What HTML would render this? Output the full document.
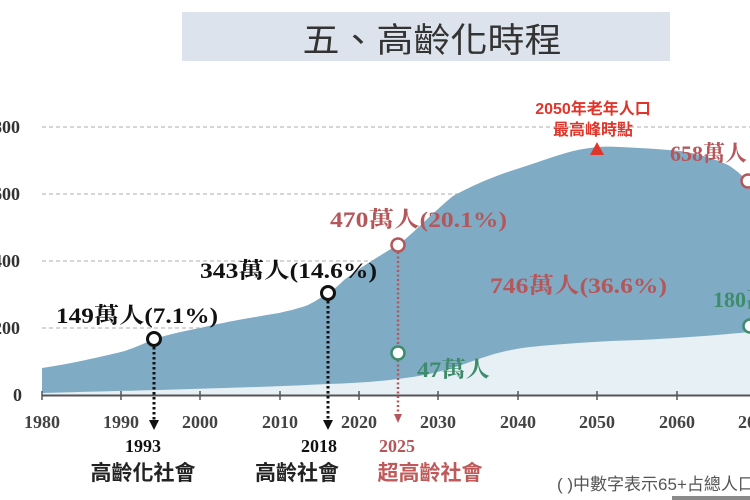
<!DOCTYPE html>
<html>
<head>
<meta charset="utf-8">
<style>
  html,body{margin:0;padding:0;background:#fff;}
  svg{display:block;}
  .serif{font-family:"Liberation Serif","Noto Serif CJK TC","Noto Serif CJK SC",serif;font-weight:bold;}
  .sans{font-family:"Liberation Sans","Noto Sans CJK TC","Noto Sans CJK SC",sans-serif;}
</style>
</head>
<body>
<svg width="750" height="500" viewBox="0 0 750 500" xmlns="http://www.w3.org/2000/svg">
  <rect x="0" y="0" width="750" height="500" fill="#ffffff"/>
  <!-- Title -->
  <rect x="182" y="12" width="488" height="49" fill="#dde3ec"/>
  <text x="432" y="52" text-anchor="middle" class="sans" font-size="34" font-weight="400" fill="#333" textLength="259" lengthAdjust="spacingAndGlyphs">五、高齡化時程</text>

  <!-- gridlines -->
  <g stroke="#c9c9c9" stroke-width="1.5" stroke-dasharray="4 3">
    <line x1="42" y1="127" x2="750" y2="127"/>
    <line x1="42" y1="194" x2="750" y2="194"/>
    <line x1="42" y1="261" x2="750" y2="261"/>
    <line x1="42" y1="328" x2="750" y2="328"/>
  </g>

  <!-- y labels -->
  <g class="serif" font-size="18" fill="#333" text-anchor="end">
    <text x="20" y="133">800</text>
    <text x="20" y="200">600</text>
    <text x="20" y="267">400</text>
    <text x="20" y="334">200</text>
    <text x="22" y="401">0</text>
  </g>

  <!-- dark area -->
  <path d="M42,368 C70,364 95,358 121,352 C135,348 145,343 154,339 C170,334 185,331 200,328 C230,321 255,317 279,313 C292,310 300,308 308,305 C318,300 323,296 328,293 C336,288 340,284 344,280 C360,268 380,255 398,245 C415,232 430,215 453,196 C475,184 500,174 520,168 C545,160 565,152 583,149 C595,147 605,146 620,147 C640,148 660,149 680,151 C700,154 715,159 728,165 C738,171 745,178 750,186 L750,395 L42,395 Z" fill="#80abc4"/>
  <!-- light area -->
  <path d="M42,393 C120,391 250,388 328,384 C360,383 385,381 405,378 C430,375 450,369 470,362 C490,355 505,350 530,347 C560,344 600,341 640,340 C680,338 720,335 750,332 L750,395 L42,395 Z" fill="#e7f0f4"/>

  <!-- axis -->
  <line x1="42" y1="395.5" x2="750" y2="395.5" stroke="#555" stroke-width="2"/>
  <g stroke="#555" stroke-width="1.5">
    <line x1="42" y1="391" x2="42" y2="400"/>
    <line x1="121" y1="391" x2="121" y2="400"/>
    <line x1="200" y1="391" x2="200" y2="400"/>
    <line x1="280" y1="391" x2="280" y2="400"/>
    <line x1="359" y1="391" x2="359" y2="400"/>
    <line x1="438" y1="391" x2="438" y2="400"/>
    <line x1="518" y1="391" x2="518" y2="400"/>
    <line x1="597" y1="391" x2="597" y2="400"/>
    <line x1="677" y1="391" x2="677" y2="400"/>
  </g>

  <!-- x labels -->
  <g class="serif" font-size="18" fill="#444" text-anchor="middle">
    <text x="42" y="428">1980</text>
    <text x="121" y="428">1990</text>
    <text x="200" y="428">2000</text>
    <text x="280" y="428">2010</text>
    <text x="359" y="428">2020</text>
    <text x="438" y="428">2030</text>
    <text x="518" y="428">2040</text>
    <text x="597" y="428">2050</text>
    <text x="677" y="428">2060</text>
    <text x="756" y="428">2070</text>
  </g>

  <!-- dotted lines & arrows -->
  <g stroke="#111" stroke-width="3" stroke-dasharray="2.5 2.5">
    <line x1="154" y1="347" x2="154" y2="421"/>
    <line x1="328" y1="301" x2="328" y2="421"/>
  </g>
  <polygon points="149,420 159,420 154,430" fill="#111"/>
  <polygon points="323,420 333,420 328,430" fill="#111"/>
  <line x1="398" y1="252" x2="398" y2="415" stroke="#b5575a" stroke-width="2.5" stroke-dasharray="2 2.5"/>
  <polygon points="394,414 402,414 398,423" fill="#b5575a"/>

  <!-- markers -->
  <circle cx="154" cy="339" r="6.5" fill="#fff" stroke="#111" stroke-width="3"/>
  <circle cx="328" cy="293" r="6.5" fill="#fff" stroke="#111" stroke-width="3"/>
  <circle cx="398" cy="245" r="6.5" fill="#fff" stroke="#b5575a" stroke-width="2.5"/>
  <circle cx="398" cy="353" r="6.5" fill="#fff" stroke="#3e8c6b" stroke-width="2.5"/>
  <circle cx="748" cy="181" r="6.5" fill="#fff" stroke="#b5575a" stroke-width="2.5"/>
  <circle cx="750" cy="326" r="6.5" fill="#fff" stroke="#3e8c6b" stroke-width="2.5"/>
  <polygon points="597,142 590,155 604,155" fill="#e0352b"/>

  <!-- annotations -->
  <g class="serif" font-size="22">
    <text x="56" y="323" fill="#111" textLength="162" lengthAdjust="spacingAndGlyphs">149萬人(7.1%)</text>
    <text x="200" y="278" fill="#111" textLength="177" lengthAdjust="spacingAndGlyphs">343萬人(14.6%)</text>
    <text x="330" y="227" fill="#b5575a" textLength="177" lengthAdjust="spacingAndGlyphs">470萬人(20.1%)</text>
    <text x="490" y="293" fill="#b5575a" textLength="177" lengthAdjust="spacingAndGlyphs">746萬人(36.6%)</text>
    <text x="417" y="377" fill="#3e8c6b" textLength="73" lengthAdjust="spacingAndGlyphs">47萬人</text>
    <text x="670" y="161" fill="#b5575a">658萬人</text>
    <text x="713" y="307" fill="#3e8c6b">180萬人</text>
  </g>

  <g class="sans" font-size="16" font-weight="bold" fill="#e0352b" text-anchor="middle">
    <text x="593" y="114">2050年老年人口</text>
    <text x="593" y="135">最高峰時點</text>
  </g>

  <!-- bottom labels -->
  <g class="serif" font-size="18" text-anchor="middle">
    <text x="143" y="452" fill="#111">1993</text>
    <text x="319" y="452" fill="#111">2018</text>
    <text x="397" y="452" fill="#b5575a">2025</text>
  </g>
  <g class="sans" font-size="21" font-weight="bold" text-anchor="middle">
    <text x="143" y="480" fill="#222">高齡化社會</text>
    <text x="297" y="480" fill="#222">高齡社會</text>
    <text x="430" y="480" fill="#c05a5a">超高齡社會</text>
  </g>
  <text x="557" y="490" class="sans" font-size="17" fill="#555">( )中數字表示65+占總人口比率</text>

  <rect x="672" y="496" width="78" height="4" fill="#8a8a8a"/>
</svg>
</body>
</html>
